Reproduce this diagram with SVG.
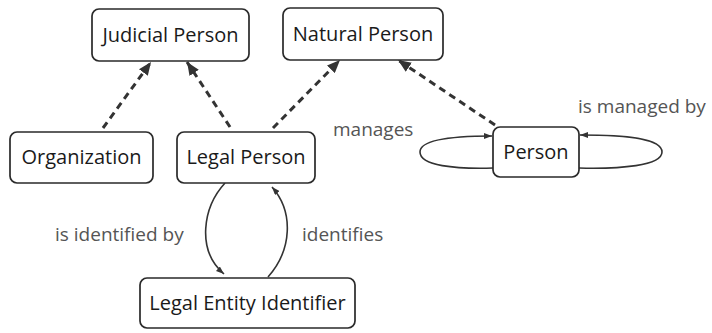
<svg xmlns="http://www.w3.org/2000/svg" width="712" height="333" viewBox="0 0 712 333">
<style>
.node rect{fill:#fff;stroke:#2a2a2a;stroke-width:1.7}
.node text{font-family:"Open Sans","Noto Sans",sans-serif;font-size:20px;fill:#1a1a1a;text-anchor:middle}
.lbl{font-family:"Open Sans","Noto Sans",sans-serif;font-size:19px;fill:#555}
.dash{fill:none;stroke:#333;stroke-width:3;stroke-dasharray:7 5;marker-end:url(#big)}
.rel{fill:none;stroke:#333;stroke-width:1.6;marker-end:url(#small)}
</style>
<defs>
<marker id="big" markerUnits="userSpaceOnUse" viewBox="0 0 13 11" refX="13" refY="5.5" markerWidth="13" markerHeight="11" orient="auto">
<path d="M0,0 L13,5.5 L0,11 Z" fill="#333"/>
</marker>
<marker id="small" markerUnits="userSpaceOnUse" viewBox="0 0 8 6" refX="8" refY="3" markerWidth="8" markerHeight="6" orient="auto">
<path d="M0,0 L8,3 L0,6 Z" fill="#333"/>
</marker>
</defs>
<rect width="712" height="333" fill="#fff"/>
<g id="connectors">
<path class="dash" d="M103,128 L151,62"/>
<path class="dash" d="M230,127 L187,62"/>
<path class="dash" d="M273,128 L340,60"/>
<path class="dash" d="M495,125 L398,60"/>
<path class="rel" d="M493,168 C455,169 420,166 420,152 C420,139 455,136 492,136"/>
<path class="rel" d="M579,168 C620,169 662,166 662,152 C662,138 625,135 580,135"/>
<path class="rel" d="M225,183 C203,207 196,250 224,274"/>
<path class="rel" d="M268,277 C292,250 294,212 272,187"/>
</g>
<g id="judicial-person" class="node"><rect x="92" y="9" width="157" height="52" rx="7"/><text x="170.5" y="42">Judicial Person</text></g>
<g id="natural-person" class="node"><rect x="283" y="8" width="160" height="52" rx="7"/><text x="363" y="41">Natural Person</text></g>
<g id="organization" class="node"><rect x="10" y="132" width="143" height="51" rx="7"/><text x="81.5" y="164">Organization</text></g>
<g id="legal-person" class="node"><rect x="177" y="132" width="138" height="51" rx="7"/><text x="246" y="164">Legal Person</text></g>
<g id="person" class="node"><rect x="493" y="127" width="86" height="50" rx="7"/><text x="536" y="159">Person</text></g>
<g id="legal-entity-identifier" class="node"><rect x="140" y="278" width="215" height="50" rx="7"/><text x="247.5" y="310">Legal Entity Identifier</text></g>
<g id="labels">
<text class="lbl" x="333" y="136">manages</text>
<text class="lbl" x="578" y="113">is managed by</text>
<text class="lbl" x="55" y="241">is identified by</text>
<text class="lbl" x="302" y="241">identifies</text>
</g>
</svg>
